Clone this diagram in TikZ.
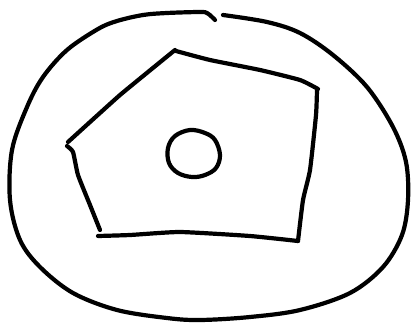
\documentclass[tikz,border=0pt]{standalone}
\begin{document}
\begin{tikzpicture}[x=1pt,y=-1pt,
  ink/.style={draw=black,line width=4.2pt,line cap=round,line join=round}]
\useasboundingbox[fill=white] (0,0) rectangle (411,324);
% outer closed curve with small gap at top
\draw[ink] plot[smooth,tension=0.55] coordinates {
  (223,15) (267,22) (300,33) (333,55) (367,87) (393,127) (406,162)
  (408,200) (402,235) (383,267) (350,293) (300,310) (250,317) (200,320)
  (167,318) (117,310) (73,293) (40,267) (20,240) (10,200) (12,150)
  (27,107) (43,77) (67,50) (98,29) (117,21) (143,15) (167,13)
  (200,12) (207,13) (212,17) (215,20)};
% pentagon
\draw[ink] plot[smooth,tension=0.2] coordinates {(68,142) (120,95) (175,50)};
\draw[ink] plot[smooth,tension=0.3] coordinates {(176,51) (210,60) (260,70) (300,80) (318,89)};
\draw[ink] plot[smooth,tension=0.3] coordinates {(317,90) (316,115) (310,170) (303,200) (298,241)};
\draw[ink] plot[smooth,tension=0.3] coordinates {(298,241) (250,236) (180,232) (130,235) (98,236)};
\draw[ink] plot[smooth,tension=0.3] coordinates {(100,230) (90,205) (78,175) (73,152) (67,146)};
% small inner circle
\draw[ink] plot[smooth cycle,tension=0.6] coordinates {
  (190,130) (205,133) (215,140) (220,155) (216,168) (205,175) (192,177)
  (178,173) (169,163) (168,148) (175,136)};
\end{tikzpicture}
\end{document}
